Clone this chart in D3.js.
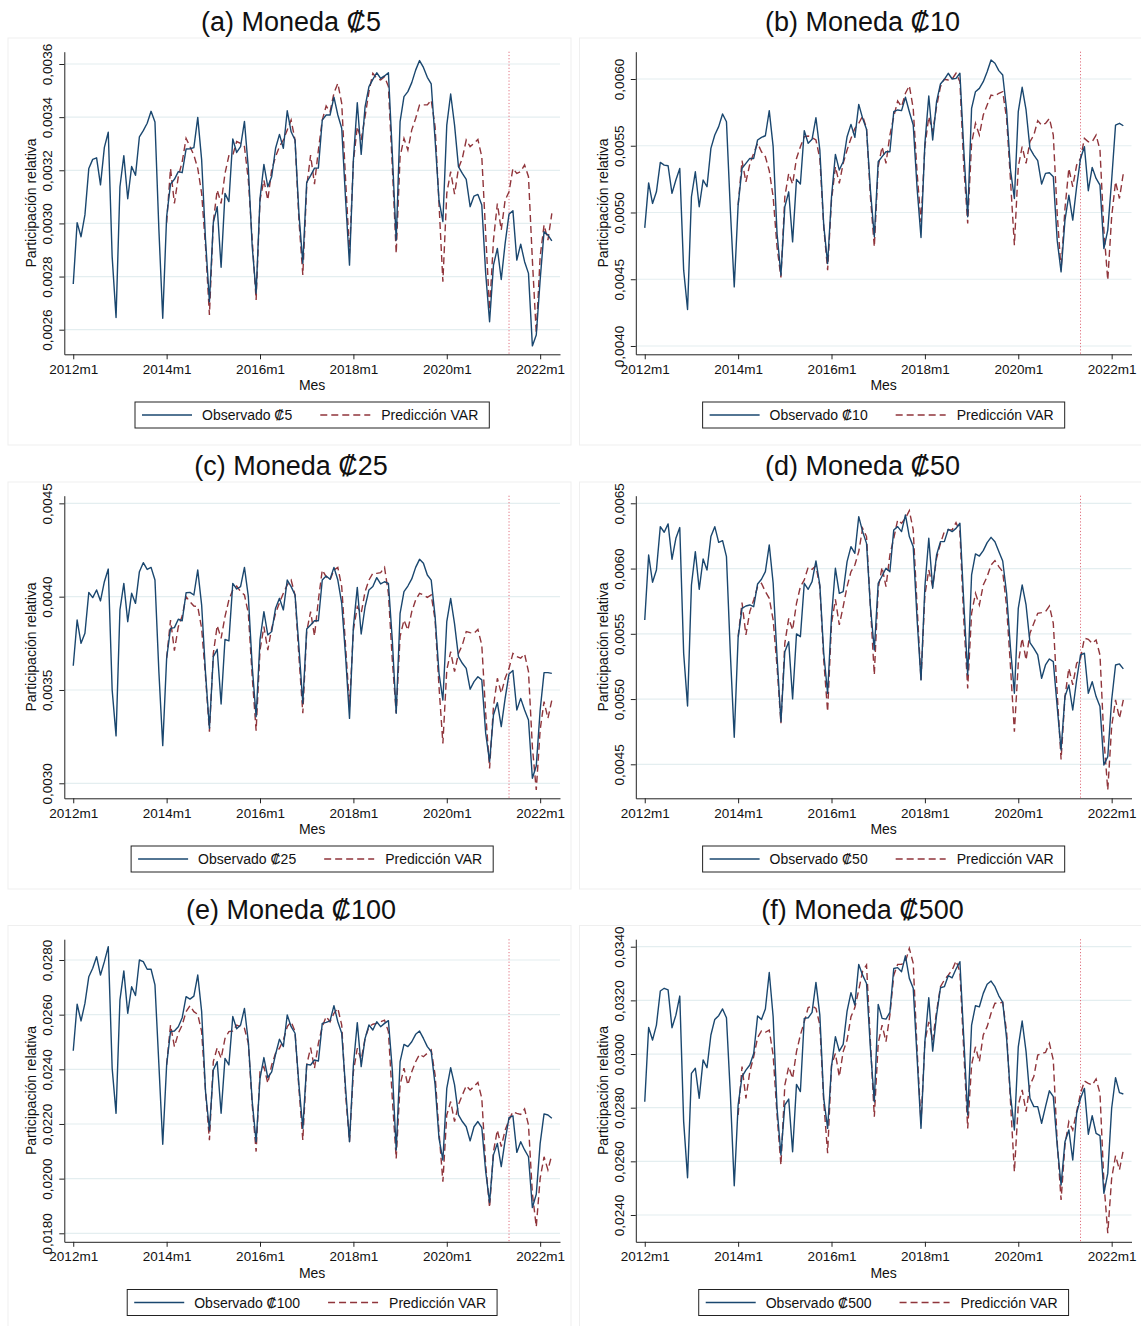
<!DOCTYPE html>
<html>
<head>
<meta charset="utf-8">
<script src="https://cdn.jsdelivr.net/npm/d3@7"></script>
<style>
  body { margin: 0; background: #fff; }
  svg text { font-family: "Liberation Sans", Arial, Helvetica, sans-serif; fill: #111; }
</style>
</head>
<body>
<div id="chart"></div>
<script>
// meses 2012m1 .. 2022m4 (124 obs), prediccion VAR desde 2014m1 (indice 24)
const xTickLabels = ["2012m1", "2014m1", "2016m1", "2018m1", "2020m1", "2022m1"];
const xTickIdx = [0, 24, 48, 72, 96, 120];
const predStart = 24;
const cutIdx = 112; // 2021m5

const obs5 = [
  0.002772, 0.003003, 0.002950, 0.003032, 0.003207, 0.003241, 0.003247, 0.003145, 0.003286, 0.003343,
  0.002875, 0.002646, 0.003138, 0.003255, 0.003093, 0.003214, 0.003181, 0.003326, 0.003349, 0.003377,
  0.003422, 0.003382, 0.002980, 0.002643, 0.003025, 0.003148, 0.003166, 0.003195, 0.003191, 0.003280,
  0.003281, 0.003285, 0.003399, 0.003239, 0.002937, 0.002705, 0.003003, 0.003063, 0.002835, 0.003113,
  0.003082, 0.003318, 0.003267, 0.003289, 0.003384, 0.003207, 0.002912, 0.002737, 0.003094, 0.003222,
  0.003138, 0.003176, 0.003283, 0.003335, 0.003283, 0.003424, 0.003345, 0.003314, 0.003038, 0.002850,
  0.003155, 0.003180, 0.003208, 0.003208, 0.003389, 0.003408, 0.003408, 0.003475, 0.003408, 0.003358,
  0.003088, 0.002843, 0.003239, 0.003454, 0.003260, 0.003439, 0.003515, 0.003542, 0.003567, 0.003546,
  0.003555, 0.003567, 0.003264, 0.002937, 0.003383, 0.003477, 0.003496, 0.003530, 0.003577, 0.003613,
  0.003587, 0.003550, 0.003525, 0.003314, 0.003088, 0.003007, 0.003370, 0.003487, 0.003370, 0.003214,
  0.003188, 0.003166, 0.003063, 0.003103, 0.003109, 0.003069, 0.002812, 0.002630, 0.002843, 0.002906,
  0.002789, 0.002925, 0.003035, 0.003048, 0.002862, 0.002922, 0.002856, 0.002812, 0.002539, 0.002580,
  0.002787, 0.002969, 0.002956, 0.002934
];
const pred5 = [
  0.003003, 0.003207, 0.003075, 0.003176, 0.003232, 0.003320, 0.003289, 0.003257, 0.003207, 0.003113,
  0.002912, 0.002655, 0.003007, 0.003126, 0.003075, 0.003188, 0.003255, 0.003257, 0.003308, 0.003301,
  0.003289, 0.003163, 0.002937, 0.002712, 0.003088, 0.003163, 0.003088, 0.003201, 0.003251, 0.003289,
  0.003314, 0.003352, 0.003389, 0.003314, 0.003013, 0.002806, 0.003138, 0.003257, 0.003148, 0.003276,
  0.003389, 0.003442, 0.003420, 0.003490, 0.003527, 0.003452, 0.003163, 0.002887, 0.003232, 0.003364,
  0.003314, 0.003402, 0.003496, 0.003565, 0.003546, 0.003540, 0.003552, 0.003515, 0.003214, 0.002887,
  0.003251, 0.003320, 0.003276, 0.003352, 0.003395, 0.003446, 0.003446, 0.003446, 0.003464, 0.003364,
  0.003075, 0.002781, 0.003113, 0.003195, 0.003110, 0.003207, 0.003245, 0.003314, 0.003289, 0.003301,
  0.003316, 0.003251, 0.002962, 0.002674, 0.002937, 0.003075, 0.002975, 0.003088, 0.003119, 0.003207,
  0.003188, 0.003195, 0.003220, 0.003176, 0.002862, 0.002586, 0.002875, 0.002994, 0.002937, 0.003038
];

const obs10 = [
  0.004885, 0.005222, 0.005068, 0.005155, 0.005375, 0.005355, 0.005350, 0.005143, 0.005243, 0.005330,
  0.004568, 0.004273, 0.005118, 0.005305, 0.005043, 0.005243, 0.005193, 0.005480, 0.005580, 0.005643,
  0.005738, 0.005680, 0.005020, 0.004443, 0.005055, 0.005330, 0.005368, 0.005405, 0.005405, 0.005543,
  0.005563, 0.005575, 0.005763, 0.005493, 0.004843, 0.004530, 0.005043, 0.005155, 0.004780, 0.005248,
  0.005213, 0.005613, 0.005518, 0.005548, 0.005710, 0.005468, 0.004905, 0.004618, 0.005118, 0.005435,
  0.005318, 0.005380, 0.005568, 0.005660, 0.005563, 0.005810, 0.005705, 0.005623, 0.005168, 0.004818,
  0.005380, 0.005418, 0.005455, 0.005455, 0.005755, 0.005768, 0.005763, 0.005863, 0.005755, 0.005655,
  0.005180, 0.004813, 0.005518, 0.005873, 0.005543, 0.005830, 0.005963, 0.005998, 0.006043, 0.006000,
  0.006005, 0.006043, 0.005468, 0.004968, 0.005780, 0.005905, 0.005930, 0.005980, 0.006055, 0.006143,
  0.006118, 0.006063, 0.006030, 0.005768, 0.005318, 0.005105, 0.005755, 0.005938, 0.005768, 0.005480,
  0.005430, 0.005388, 0.005213, 0.005293, 0.005298, 0.005268, 0.004793, 0.004555, 0.004943, 0.005130,
  0.004943, 0.005193, 0.005405, 0.005493, 0.005163, 0.005338, 0.005255, 0.005205, 0.004730, 0.004868,
  0.005243, 0.005655, 0.005668, 0.005650
];
const pred10 = [
  0.005055, 0.005388, 0.005230, 0.005363, 0.005443, 0.005518, 0.005455, 0.005418, 0.005313, 0.005118,
  0.004743, 0.004513, 0.005118, 0.005293, 0.005213, 0.005405, 0.005493, 0.005568, 0.005573, 0.005560,
  0.005543, 0.005405, 0.004893, 0.004568, 0.005093, 0.005343, 0.005218, 0.005368, 0.005468, 0.005555,
  0.005630, 0.005668, 0.005723, 0.005630, 0.005118, 0.004743, 0.005343, 0.005493, 0.005368, 0.005580,
  0.005718, 0.005835, 0.005793, 0.005893, 0.005950, 0.005780, 0.005293, 0.004930, 0.005493, 0.005718,
  0.005605, 0.005793, 0.005943, 0.005998, 0.005993, 0.006000, 0.006043, 0.005980, 0.005343, 0.004918,
  0.005518, 0.005668, 0.005580, 0.005730, 0.005805, 0.005880, 0.005873, 0.005893, 0.005905, 0.005705,
  0.005243, 0.004755, 0.005343, 0.005493, 0.005368, 0.005530, 0.005580, 0.005688, 0.005655, 0.005668,
  0.005705, 0.005580, 0.004993, 0.004568, 0.005030, 0.005330, 0.005193, 0.005355, 0.005405, 0.005555,
  0.005530, 0.005530, 0.005580, 0.005468, 0.004868, 0.004493, 0.004968, 0.005230, 0.005105, 0.005293
];

const obs25 = [
  0.003630, 0.003875, 0.003750, 0.003804, 0.004023, 0.003995, 0.004036, 0.003977, 0.004080, 0.004148,
  0.003500, 0.003254, 0.003929, 0.004071, 0.003866, 0.004018, 0.003964, 0.004134, 0.004182, 0.004146,
  0.004157, 0.004089, 0.003600, 0.003202, 0.003670, 0.003830, 0.003834, 0.003879, 0.003871, 0.004021,
  0.004023, 0.004009, 0.004143, 0.003955, 0.003589, 0.003295, 0.003679, 0.003718, 0.003425, 0.003771,
  0.003763, 0.004071, 0.004041, 0.004054, 0.004157, 0.004000, 0.003625, 0.003357, 0.003768, 0.003920,
  0.003795, 0.003813, 0.003938, 0.003991, 0.003929, 0.004089, 0.004054, 0.004009, 0.003732, 0.003429,
  0.003827, 0.003848, 0.003871, 0.003871, 0.004089, 0.004111, 0.004093, 0.004157, 0.004089, 0.003964,
  0.003679, 0.003348, 0.003839, 0.004050, 0.003800, 0.003946, 0.004036, 0.004054, 0.004102, 0.004068,
  0.004080, 0.004071, 0.003768, 0.003375, 0.003911, 0.004027, 0.004057, 0.004095, 0.004157, 0.004200,
  0.004179, 0.004116, 0.004089, 0.003893, 0.003589, 0.003446, 0.003866, 0.003991, 0.003854, 0.003679,
  0.003643, 0.003616, 0.003504, 0.003545, 0.003571, 0.003554, 0.003268, 0.003116, 0.003366, 0.003432,
  0.003304, 0.003455, 0.003586, 0.003604, 0.003393, 0.003455, 0.003393, 0.003339, 0.003027, 0.003093,
  0.003393, 0.003593, 0.003593, 0.003589
];
const pred25 = [
  0.003670, 0.003875, 0.003711, 0.003839, 0.003896, 0.004000, 0.003973, 0.003950, 0.003946, 0.003830,
  0.003571, 0.003277, 0.003696, 0.003845, 0.003777, 0.003893, 0.003982, 0.004036, 0.004057, 0.004027,
  0.004009, 0.003911, 0.003571, 0.003282, 0.003714, 0.003839, 0.003714, 0.003830, 0.003911, 0.003968,
  0.004018, 0.004063, 0.004089, 0.004009, 0.003679, 0.003375, 0.003813, 0.003920, 0.003789, 0.003982,
  0.004143, 0.004107, 0.004089, 0.004143, 0.004157, 0.004054, 0.003732, 0.003411, 0.003821, 0.003946,
  0.003911, 0.004027, 0.004089, 0.004125, 0.004125, 0.004129, 0.004157, 0.004018, 0.003661, 0.003375,
  0.003786, 0.003875, 0.003821, 0.003920, 0.003982, 0.004018, 0.004009, 0.003996, 0.004009, 0.003875,
  0.003518, 0.003214, 0.003607, 0.003705, 0.003598, 0.003696, 0.003741, 0.003813, 0.003807, 0.003804,
  0.003825, 0.003741, 0.003375, 0.003080, 0.003411, 0.003563, 0.003482, 0.003563, 0.003616, 0.003696,
  0.003679, 0.003670, 0.003693, 0.003598, 0.003196, 0.002964, 0.003286, 0.003438, 0.003348, 0.003446
];

const obs50 = [
  0.005606, 0.006104, 0.005895, 0.005989, 0.006321, 0.006278, 0.006342, 0.006071, 0.006232, 0.006314,
  0.005351, 0.004947, 0.005874, 0.006130, 0.005841, 0.006073, 0.005989, 0.006245, 0.006321, 0.006201,
  0.006214, 0.006091, 0.005350, 0.004707, 0.005471, 0.005695, 0.005713, 0.005721, 0.005708, 0.005882,
  0.005918, 0.005976, 0.006181, 0.005887, 0.005325, 0.004827, 0.005363, 0.005440, 0.005001, 0.005499,
  0.005478, 0.005887, 0.005841, 0.005900, 0.006058, 0.005874, 0.005351, 0.005044, 0.005632, 0.006002,
  0.005810, 0.005823, 0.006053, 0.006168, 0.006117, 0.006398, 0.006283, 0.006193, 0.005708, 0.005376,
  0.005887, 0.005943, 0.006002, 0.005976, 0.006296, 0.006321, 0.006283, 0.006411, 0.006245, 0.006168,
  0.005606, 0.005146, 0.005861, 0.006232, 0.005849, 0.006104, 0.006206, 0.006206, 0.006301, 0.006283,
  0.006308, 0.006347, 0.005734, 0.005185, 0.005951, 0.006112, 0.006096, 0.006137, 0.006199, 0.006239,
  0.006206, 0.006130, 0.006058, 0.005810, 0.005389, 0.005044, 0.005695, 0.005874, 0.005721, 0.005432,
  0.005389, 0.005338, 0.005159, 0.005261, 0.005307, 0.005287, 0.004942, 0.004610, 0.005019, 0.005108,
  0.004916, 0.005146, 0.005338, 0.005351, 0.005044, 0.005133, 0.005019, 0.004942, 0.004495, 0.004559,
  0.004993, 0.005261, 0.005269, 0.005231
];
const pred50 = [
  0.005478, 0.005739, 0.005491, 0.005670, 0.005759, 0.005861, 0.005887, 0.005823, 0.005772, 0.005606,
  0.005248, 0.004814, 0.005427, 0.005619, 0.005529, 0.005734, 0.005861, 0.005913, 0.006010, 0.005994,
  0.006020, 0.005861, 0.005300, 0.004904, 0.005580, 0.005764, 0.005568, 0.005708, 0.005861, 0.005976,
  0.006027, 0.006130, 0.006308, 0.006245, 0.005708, 0.005185, 0.005849, 0.006010, 0.005861, 0.006104,
  0.006232, 0.006372, 0.006347, 0.006385, 0.006444, 0.006296, 0.005708, 0.005146, 0.005798, 0.005989,
  0.005861, 0.006079, 0.006193, 0.006283, 0.006296, 0.006296, 0.006352, 0.006283, 0.005606, 0.005082,
  0.005657, 0.005810, 0.005721, 0.005874, 0.005938, 0.006027, 0.006061, 0.006015, 0.005976, 0.005708,
  0.005248, 0.004750, 0.005274, 0.005466, 0.005300, 0.005504, 0.005580, 0.005657, 0.005662, 0.005670,
  0.005713, 0.005580, 0.005044, 0.004538, 0.005019, 0.005236, 0.005108, 0.005274, 0.005312, 0.005466,
  0.005458, 0.005427, 0.005453, 0.005338, 0.004700, 0.004303, 0.004789, 0.004993, 0.004852, 0.004993
];

const obs100 = [
  0.02468, 0.02638, 0.02577, 0.02641, 0.02739, 0.02770, 0.02812, 0.02745, 0.02794, 0.02849,
  0.02404, 0.02239, 0.02654, 0.02760, 0.02605, 0.02702, 0.02670, 0.02800, 0.02794, 0.02766,
  0.02766, 0.02709, 0.02420, 0.02126, 0.02416, 0.02538, 0.02540, 0.02556, 0.02589, 0.02666,
  0.02657, 0.02668, 0.02745, 0.02611, 0.02318, 0.02178, 0.02398, 0.02428, 0.02239, 0.02440,
  0.02416, 0.02593, 0.02548, 0.02562, 0.02623, 0.02501, 0.02282, 0.02135, 0.02367, 0.02443,
  0.02370, 0.02391, 0.02455, 0.02510, 0.02483, 0.02599, 0.02556, 0.02532, 0.02343, 0.02184,
  0.02418, 0.02416, 0.02434, 0.02430, 0.02568, 0.02572, 0.02577, 0.02633, 0.02574, 0.02532,
  0.02330, 0.02135, 0.02416, 0.02571, 0.02410, 0.02513, 0.02562, 0.02544, 0.02574, 0.02556,
  0.02568, 0.02578, 0.02398, 0.02105, 0.02428, 0.02491, 0.02483, 0.02501, 0.02528, 0.02540,
  0.02513, 0.02483, 0.02465, 0.02343, 0.02148, 0.02068, 0.02330, 0.02406, 0.02343, 0.02233,
  0.02209, 0.02190, 0.02138, 0.02190, 0.02209, 0.02187, 0.02026, 0.01913, 0.02087, 0.02129,
  0.02044, 0.02141, 0.02223, 0.02230, 0.02096, 0.02135, 0.02105, 0.02080, 0.01894, 0.01943,
  0.02129, 0.02237, 0.02233, 0.02221
];
const pred100 = [
  0.02416, 0.02562, 0.02483, 0.02532, 0.02562, 0.02611, 0.02633, 0.02611, 0.02601, 0.02538,
  0.02318, 0.02141, 0.02428, 0.02479, 0.02440, 0.02513, 0.02538, 0.02540, 0.02562, 0.02556,
  0.02550, 0.02495, 0.02270, 0.02099, 0.02391, 0.02410, 0.02349, 0.02416, 0.02459, 0.02477,
  0.02507, 0.02556, 0.02574, 0.02538, 0.02330, 0.02141, 0.02416, 0.02479, 0.02404, 0.02495,
  0.02556, 0.02593, 0.02574, 0.02605, 0.02623, 0.02562, 0.02306, 0.02135, 0.02391, 0.02477,
  0.02434, 0.02513, 0.02556, 0.02565, 0.02568, 0.02574, 0.02580, 0.02538, 0.02294, 0.02074,
  0.02343, 0.02404, 0.02343, 0.02391, 0.02428, 0.02455, 0.02446, 0.02459, 0.02471, 0.02379,
  0.02172, 0.01989, 0.02233, 0.02282, 0.02209, 0.02270, 0.02306, 0.02340, 0.02324, 0.02337,
  0.02352, 0.02294, 0.02050, 0.01894, 0.02099, 0.02178, 0.02117, 0.02178, 0.02215, 0.02245,
  0.02239, 0.02235, 0.02255, 0.02196, 0.01946, 0.01824, 0.02001, 0.02080, 0.02032, 0.02087
];

const obs500 = [
  0.02822, 0.03099, 0.03052, 0.03108, 0.03235, 0.03245, 0.03239, 0.03098, 0.03145, 0.03216,
  0.02748, 0.02539, 0.02928, 0.02947, 0.02835, 0.02978, 0.02949, 0.03071, 0.03129, 0.03143,
  0.03168, 0.03135, 0.02850, 0.02509, 0.02810, 0.02916, 0.02940, 0.02959, 0.03002, 0.03142,
  0.03129, 0.03168, 0.03304, 0.03139, 0.02798, 0.02624, 0.02810, 0.02832, 0.02636, 0.02887,
  0.02860, 0.03133, 0.03135, 0.03155, 0.03267, 0.03145, 0.02835, 0.02723, 0.02953, 0.03065,
  0.03011, 0.03036, 0.03160, 0.03229, 0.03183, 0.03334, 0.03294, 0.03263, 0.03021, 0.02822,
  0.03185, 0.03133, 0.03130, 0.03155, 0.03319, 0.03322, 0.03307, 0.03366, 0.03282, 0.03245,
  0.02984, 0.02723, 0.03046, 0.03210, 0.03011, 0.03145, 0.03247, 0.03251, 0.03292, 0.03284,
  0.03317, 0.03344, 0.03058, 0.02773, 0.03108, 0.03180, 0.03176, 0.03226, 0.03260, 0.03272,
  0.03251, 0.03217, 0.03193, 0.03058, 0.02847, 0.02717, 0.03027, 0.03123, 0.03009, 0.02835,
  0.02804, 0.02804, 0.02742, 0.02804, 0.02863, 0.02841, 0.02661, 0.02512, 0.02673, 0.02717,
  0.02605, 0.02779, 0.02835, 0.02872, 0.02701, 0.02770, 0.02704, 0.02696, 0.02481, 0.02555,
  0.02798, 0.02912, 0.02856, 0.02851
];
const pred500 = [
  0.02773, 0.02953, 0.02835, 0.02934, 0.02990, 0.03061, 0.03086, 0.03081, 0.03089, 0.02996,
  0.02773, 0.02586, 0.02884, 0.02953, 0.02909, 0.03009, 0.03071, 0.03120, 0.03173, 0.03179,
  0.03170, 0.03108, 0.02822, 0.02630, 0.02959, 0.03002, 0.02916, 0.03009, 0.03052, 0.03139,
  0.03173, 0.03239, 0.03309, 0.03332, 0.03046, 0.02766, 0.03040, 0.03108, 0.03046, 0.03145,
  0.03294, 0.03334, 0.03334, 0.03344, 0.03394, 0.03338, 0.03015, 0.02742, 0.03046, 0.03120,
  0.03052, 0.03158, 0.03251, 0.03276, 0.03294, 0.03313, 0.03347, 0.03307, 0.03009, 0.02723,
  0.02959, 0.03027, 0.02971, 0.03071, 0.03102, 0.03152, 0.03189, 0.03189, 0.03193, 0.03083,
  0.02822, 0.02561, 0.02810, 0.02866, 0.02785, 0.02884, 0.02916, 0.02996, 0.03002, 0.03006,
  0.03040, 0.02978, 0.02673, 0.02456, 0.02661, 0.02748, 0.02717, 0.02785, 0.02853, 0.02899,
  0.02891, 0.02884, 0.02907, 0.02853, 0.02524, 0.02332, 0.02537, 0.02621, 0.02568, 0.02642
];

const yTicks5 = [0.0026, 0.0028, 0.0030, 0.0032, 0.0034, 0.0036];
const yTicks10 = [0.0040, 0.0045, 0.0050, 0.0055, 0.0060];
const yTicks25 = [0.0030, 0.0035, 0.0040, 0.0045];
const yTicks50 = [0.0045, 0.0050, 0.0055, 0.0060, 0.0065];
const yTicks100 = [0.0180, 0.0200, 0.0220, 0.0240, 0.0260, 0.0280];
const yTicks500 = [0.0240, 0.0260, 0.0280, 0.0300, 0.0320, 0.0340];

const panels = [
  { title: "(a) Moneda ₡5", key: "Observado ₡5", obs: obs5, pred: pred5, ticks: yTicks5, dom: [0.0025074, 0.0036463], col: 0, row: 0 },
  { title: "(b) Moneda ₡10", key: "Observado ₡10", obs: obs10, pred: pred10, ticks: yTicks10, dom: [0.0039378, 0.0062045], col: 1, row: 0 },
  { title: "(c) Moneda ₡25", key: "Observado ₡25", obs: obs25, pred: pred25, ticks: yTicks25, dom: [0.0029196, 0.004541], col: 0, row: 1 },
  { title: "(d) Moneda ₡50", key: "Observado ₡50", obs: obs50, pred: pred50, ticks: yTicks50, dom: [0.0042395, 0.0065582], col: 1, row: 1 },
  { title: "(e) Moneda ₡100", key: "Observado ₡100", obs: obs100, pred: pred100, ticks: yTicks100, dom: [0.017689, 0.028761], col: 0, row: 2 },
  { title: "(f) Moneda ₡500", key: "Observado ₡500", obs: obs500, pred: pred500, ticks: yTicks500, dom: [0.023001, 0.034280], col: 1, row: 2 }
];

const W = 1141, H = 1326;
const colX = [0, 571.5];
const rowY = [0, 444, 887.5];
const plot = { left: 64.3, right: 560, top: 51.7, bottom: 354.3 };
const navy = "#1a476f", maroon = "#90353b", grid = "#e4eef0";

const svg = d3.select("#chart").append("svg")
    .attr("width", W)
    .attr("height", H)
    .style("background", "#fff");

const x = d3.scaleLinear().domain([-2.3, 125.1]).range([plot.left, plot.right]);
const fmt = d => d3.format(".4f")(d).replace(".", ",");

panels.forEach(p => {
    let g = svg.append("g")
        .attr("transform", `translate(${colX[p.col]},${rowY[p.row]})`);

    // marco tenue del subgrafico
    g.append("rect")
        .attr("x", 8).attr("y", 38)
        .attr("width", 563).attr("height", 407)
        .attr("fill", "none")
        .attr("stroke", "#efefef");

    let y = d3.scaleLinear().domain(p.dom).range([plot.bottom, plot.top]);

    g.append("text")
        .attr("x", 291).attr("y", 31)
        .attr("text-anchor", "middle")
        .style("font-size", "27px")
        .text(p.title);

    // lineas de grilla
    g.append("g").selectAll("line")
        .data(p.ticks)
        .enter().append("line")
        .attr("x1", plot.left).attr("x2", plot.right)
        .attr("y1", d => y(d)).attr("y2", d => y(d))
        .attr("stroke", grid).attr("stroke-width", 1.2);

    // eje y
    let gy = g.append("g")
        .attr("transform", `translate(${plot.left},0)`)
        .call(d3.axisLeft(y).tickValues(p.ticks).tickFormat(fmt).tickSize(5).tickSizeOuter(0));
    gy.select(".domain").attr("stroke", "#222");
    gy.selectAll(".tick line").attr("stroke", "#222");
    gy.selectAll(".tick text")
        .attr("x", 0).attr("dy", null)
        .attr("text-anchor", "middle")
        .attr("dominant-baseline", "central")
        .attr("transform", "translate(-16.5,0) rotate(-90)")
        .style("font-size", "13.5px")
        .style("font-family", null)
        .attr("fill", "#111");

    // eje x
    let gx = g.append("g")
        .attr("transform", `translate(0,${plot.bottom})`)
        .call(d3.axisBottom(x).tickValues(xTickIdx)
            .tickFormat((d, i) => xTickLabels[i])
            .tickSize(5).tickPadding(5).tickSizeOuter(0));
    gx.select(".domain").attr("stroke", "#222");
    gx.selectAll(".tick line").attr("stroke", "#222");
    gx.selectAll(".tick text")
        .style("font-size", "13.5px")
        .attr("fill", "#111");

    g.append("text")
        .attr("transform", `translate(31,${(plot.top + plot.bottom) / 2}) rotate(-90)`)
        .attr("text-anchor", "middle")
        .attr("dominant-baseline", "central")
        .style("font-size", "14px")
        .text("Participación relativa");

    g.append("text")
        .attr("x", (plot.left + plot.right) / 2).attr("y", 390)
        .attr("text-anchor", "middle")
        .style("font-size", "14px")
        .text("Mes");

    // linea de corte 2021m5
    g.append("line")
        .attr("x1", x(cutIdx)).attr("x2", x(cutIdx))
        .attr("y1", plot.top).attr("y2", plot.bottom)
        .attr("stroke", "#e0707e")
        .attr("stroke-width", 1)
        .attr("stroke-dasharray", "1.2,2");

    let line = d3.line().x(d => x(d[0])).y(d => y(d[1]));

    g.append("path")
        .datum(p.pred.map((v, i) => [i + predStart, v]))
        .attr("d", line)
        .attr("fill", "none")
        .attr("stroke", maroon)
        .attr("stroke-width", 1.4)
        .attr("stroke-dasharray", "7,4");

    g.append("path")
        .datum(p.obs.map((v, i) => [i, v]))
        .attr("d", line)
        .attr("fill", "none")
        .attr("stroke", navy)
        .attr("stroke-width", 1.4)
        .attr("stroke-linejoin", "round");

    // leyenda
    let lg = g.append("g");
    let box = lg.append("rect")
        .attr("y", 402).attr("height", 26)
        .attr("fill", "#fff")
        .attr("stroke", "#222");
    lg.append("line")
        .attr("x1", 7).attr("x2", 57).attr("y1", 415).attr("y2", 415)
        .attr("stroke", navy).attr("stroke-width", 1.4);
    let t1 = lg.append("text")
        .attr("x", 67).attr("y", 420)
        .style("font-size", "14px")
        .text(p.key);
    let k2 = 67 + t1.node().getComputedTextLength() + 28;
    lg.append("line")
        .attr("x1", k2).attr("x2", k2 + 50).attr("y1", 415).attr("y2", 415)
        .attr("stroke", maroon).attr("stroke-width", 1.4)
        .attr("stroke-dasharray", "7,4");
    let t2 = lg.append("text")
        .attr("x", k2 + 61).attr("y", 420)
        .style("font-size", "14px")
        .text("Predicción VAR");
    let bw = k2 + 61 + t2.node().getComputedTextLength() + 11;
    box.attr("x", 0).attr("width", bw);
    lg.attr("transform", `translate(${(plot.left + plot.right) / 2 - bw / 2},0)`);
});
</script>
</body>
</html>
